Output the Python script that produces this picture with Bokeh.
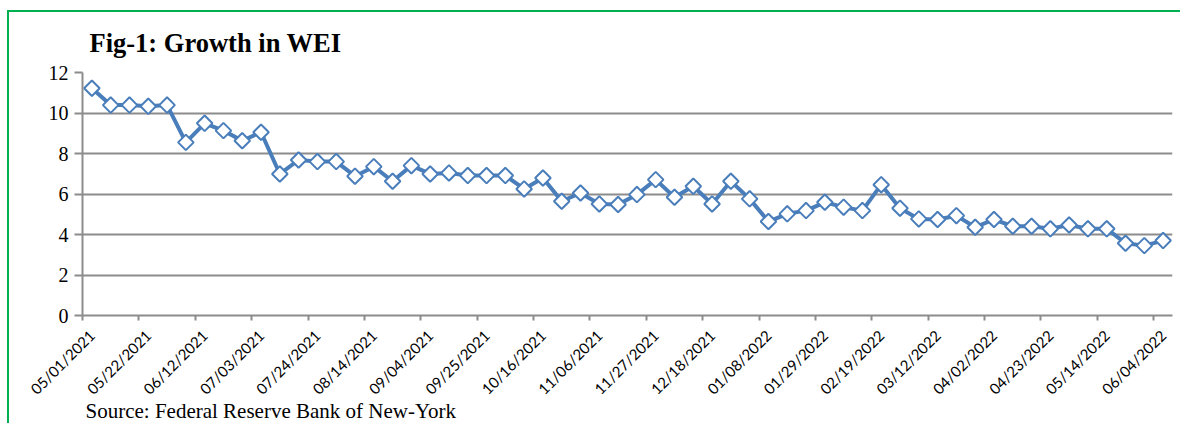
import numpy as np
from bokeh.plotting import figure
from bokeh.models import Range1d, FixedTicker, Title, ColumnDataSource, LinearAxis
from bokeh.embed import file_html
from bokeh.resources import INLINE

tick_labels = ["05/01/2021", "05/22/2021", "06/12/2021", "07/03/2021", "07/24/2021",
               "08/14/2021", "09/04/2021", "09/25/2021", "10/16/2021", "11/06/2021",
               "11/27/2021", "12/18/2021", "01/08/2022", "01/29/2022", "02/19/2022",
               "03/12/2022", "04/02/2022", "04/23/2022", "05/14/2022", "06/04/2022"]

wei = [11.22, 10.39, 10.39, 10.33, 10.39, 8.55, 9.49, 9.13, 8.63, 9.05,
       6.99, 7.68, 7.60, 7.60, 6.88, 7.35, 6.63, 7.40, 6.99, 7.04,
       6.91, 6.91, 6.91, 6.25, 6.79, 5.64, 6.05, 5.51, 5.48, 5.97,
       6.71, 5.84, 6.38, 5.51, 6.63, 5.76, 4.64, 5.02, 5.18, 5.59,
       5.35, 5.18, 6.46, 5.30, 4.77, 4.74, 4.93, 4.36, 4.74, 4.41,
       4.41, 4.28, 4.47, 4.28, 4.28, 3.57, 3.45, 3.70]

n = len(wei)
week_pos = [i + 0.5 for i in range(n)]
tick_pos = [3 * k for k in range(len(tick_labels))]
label_shift = 0.5
label_pos = [t + label_shift for t in tick_pos]

src = ColumnDataSource(dict(x=week_pos, y=wei))

p = figure(width=1173, height=413, output_backend="svg", toolbar_location=None,
           x_range=Range1d(0, n), y_range=Range1d(0, 12),
           min_border_left=73, min_border_right=10, min_border_top=60, min_border_bottom=110)
p.outline_line_color = None
p.background_fill_color = "white"
p.border_fill_color = "white"

p.title.text = "Fig-1: Growth in WEI"
p.title.text_font = "Liberation Serif"
p.title.text_font_size = "26.5px"
p.title.text_font_style = "bold"
p.title.text_color = "black"
p.title.align = "left"
p.title.vertical_align = "top"
p.title.offset = 7
p.title.standoff = 26

grid_col = "#8c8c8c"
p.xgrid.grid_line_color = None
p.ygrid.grid_line_color = grid_col
p.ygrid.grid_line_width = 2

p.yaxis.ticker = FixedTicker(ticks=[0, 2, 4, 6, 8, 10, 12])
p.yaxis.axis_line_color = grid_col
p.yaxis.axis_line_width = 2
p.yaxis.major_tick_line_color = grid_col
p.yaxis.major_tick_line_width = 2
p.yaxis.major_tick_out = 8
p.yaxis.major_tick_in = 0
p.yaxis.minor_tick_line_color = None
p.yaxis.major_label_text_font = "Liberation Serif"
p.yaxis.major_label_text_font_size = "20px"
p.yaxis.major_label_text_color = "black"
p.yaxis.major_label_standoff = 6

# tick marks axis (no labels)
p.xaxis.ticker = FixedTicker(ticks=tick_pos)
p.xaxis.major_label_overrides = {t: "" for t in tick_pos}
p.xaxis.major_label_text_font_size = "1px"
p.xaxis.major_label_standoff = 0
p.xaxis.axis_line_color = grid_col
p.xaxis.axis_line_width = 2
p.xaxis.major_tick_line_color = grid_col
p.xaxis.major_tick_line_width = 2
p.xaxis.major_tick_out = 5
p.xaxis.major_tick_in = 0
p.xaxis.minor_tick_line_color = None

# label axis, labels sit slightly right of their tick as in the source
lab_axis = LinearAxis(ticker=FixedTicker(ticks=label_pos),
                      major_label_overrides={t: lab for t, lab in zip(label_pos, tick_labels)},
                      major_label_orientation=np.pi / 4,
                      axis_line_color=None, major_tick_line_color=None,
                      minor_tick_line_color=None, major_tick_out=0, major_tick_in=0,
                      major_label_text_font="Lato", major_label_text_font_size="15px",
                      major_label_text_color="black", major_label_standoff=12)
p.add_layout(lab_axis, "below")

src_title = Title(text="Source: Federal Reserve Bank of New-York", align="left",
                  text_font="Liberation Serif", text_font_size="21px",
                  text_font_style="normal", text_color="black", offset=3, standoff=-22)
p.add_layout(src_title, "below")

blue = "#4a7ebb"
p.line("x", "y", source=src, line_color=blue, line_width=4)
p.scatter("x", "y", source=src, marker="square", angle=np.pi / 4, size=11,
          fill_color="white", line_color=blue, line_width=2)

p.styles = {"margin-left": "7px", "margin-top": "10px",
            "border-left": "2px solid #00b050", "border-top": "2px solid #00b050"}

open("out.html", "w").write(file_html(p, INLINE))
